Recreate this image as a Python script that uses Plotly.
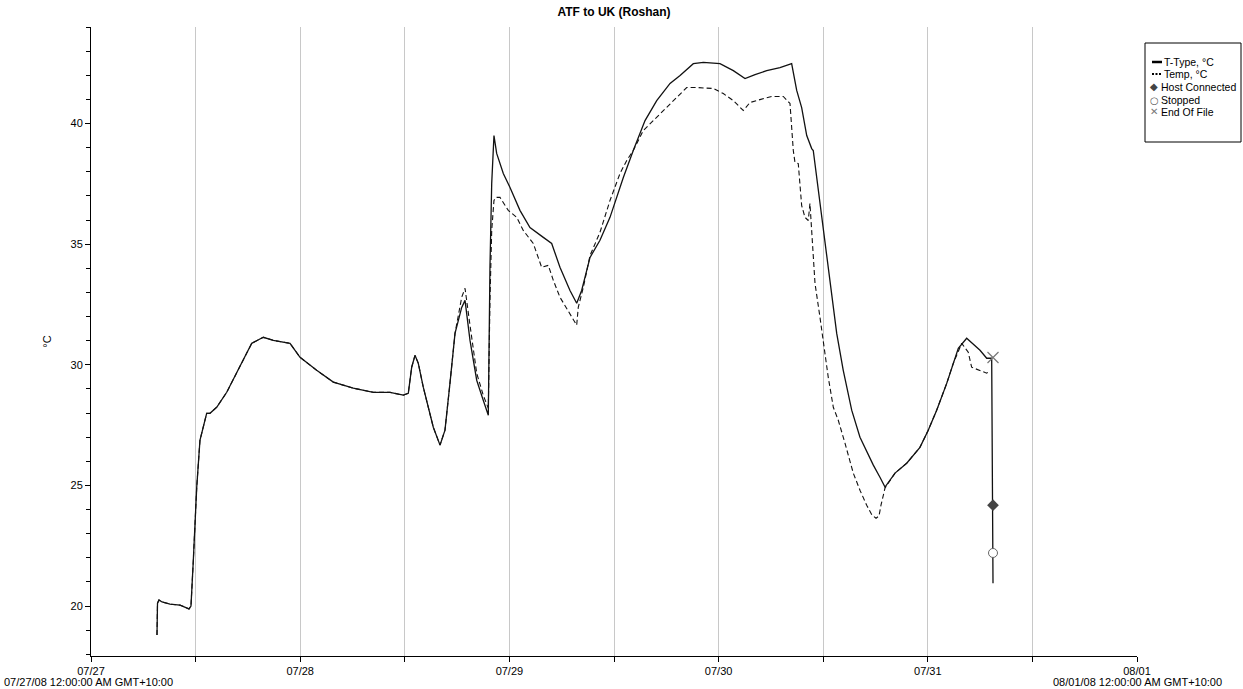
import pandas as pd
import plotly.graph_objects as go

TITLE = "ATF to UK (Roshan)"
START = "2008-07-27"
END = "2008-08-01"

# T-Type, °C  (hours since 07/27/08 00:00, temperature)
ttype_hours = [7.57, 7.63, 7.80, 8.15, 9.06, 10.21, 11.24, 11.47, 11.74, 12.13, 12.50, 12.88, 13.27, 13.65,
               14.42, 15.57, 16.72, 17.47, 18.44, 19.77, 20.91, 22.83, 23.98, 25.89, 27.80, 30.09, 32.39,
               34.30, 35.83, 36.40, 36.79, 37.17, 37.55, 38.12, 38.66, 39.27, 40.04, 40.61, 41.18, 41.76,
               42.53, 42.91, 43.48, 44.25, 45.00, 45.58, 45.77, 45.97, 46.23, 46.54, 47.30, 48.07, 49.21,
               50.36, 51.89, 52.85, 53.80, 54.95, 55.72, 56.29, 57.25, 58.39, 59.54, 61.07, 62.21, 63.56,
               64.90, 66.43, 67.58, 69.10, 70.25, 72.16, 73.69, 75.03, 76.18, 77.52, 79.04, 80.38, 80.96,
               81.53, 82.11, 82.68, 82.86, 83.44, 84.01, 84.78, 85.55, 86.30, 87.27, 88.22, 89.75, 90.51,
               91.09, 92.24, 93.58, 95.10, 96.05, 97.02, 98.17, 99.50, 100.46, 101.99, 102.76, 103.33, 103.48]
ttype_temps = [18.80, 20.12, 20.25, 20.17, 20.08, 20.04, 19.88, 20.00, 21.90, 24.93, 26.87, 27.41, 27.99, 27.99,
               28.24, 28.86, 29.65, 30.19, 30.89, 31.14, 31.01, 30.89, 30.31, 29.77, 29.28, 29.03, 28.86,
               28.86, 28.74, 28.82, 29.90, 30.39, 30.06, 29.07, 28.24, 27.41, 26.67, 27.29, 29.23, 31.30,
               32.38, 32.67, 31.01, 29.36, 28.53, 27.91, 34.04, 37.52, 39.50, 38.76, 37.93, 37.35, 36.40,
               35.69, 35.28, 35.03, 34.04, 33.08, 32.55, 33.08, 34.45, 35.16, 36.11, 37.76, 38.88, 40.12,
               40.95, 41.66, 41.99, 42.48, 42.53, 42.48, 42.19, 41.86, 42.03, 42.19, 42.32, 42.48, 41.37,
               40.66, 39.50, 38.96, 38.88, 37.23, 35.57, 33.37, 31.30, 29.77, 28.12, 27.00, 25.84, 25.34,
               24.93, 25.51, 25.92, 26.58, 27.29, 28.12, 29.23, 30.68, 31.10, 30.60, 30.27, 30.27, 20.95]

# Temp, °C
temp_hours = [7.57, 7.63, 7.80, 8.15, 9.06, 10.21, 11.24, 11.47, 11.74, 12.13, 12.50, 12.88, 13.27, 13.65,
              14.42, 15.57, 16.72, 17.47, 18.44, 19.77, 20.91, 22.83, 23.98, 25.89, 27.80, 30.09, 32.39,
              34.30, 35.83, 36.40, 36.79, 37.17, 37.55, 38.12, 38.66, 39.27, 40.04, 40.61, 41.18, 41.76,
              42.53, 42.91, 43.48, 44.25, 45.00, 45.58, 45.77, 45.97, 46.23, 46.46, 46.92, 47.87, 48.84,
              49.59, 50.74, 51.31, 51.70, 52.46, 53.04, 53.80, 54.95, 55.53, 55.72, 55.90, 56.48, 57.25,
              58.39, 59.54, 60.69, 61.46, 62.21, 63.36, 64.51, 65.65, 67.19, 68.34, 69.49, 71.39, 72.54,
              73.69, 74.83, 75.60, 76.74, 78.09, 79.42, 80.19, 80.57, 80.76, 81.14, 81.53, 81.91, 82.29,
              82.48, 82.68, 83.06, 83.63, 84.01, 84.58, 85.16, 85.73, 86.50, 87.45, 88.22, 88.99, 89.60,
              90.06, 90.40, 90.63, 91.09, 92.24, 93.58, 95.10, 96.05, 97.02, 98.17, 98.92, 99.89, 100.64,
              101.03, 101.99, 102.76, 103.13]
temp_temps = [18.80, 20.12, 20.25, 20.17, 20.08, 20.04, 19.88, 20.00, 21.90, 24.93, 26.87, 27.41, 27.99, 27.99,
              28.24, 28.86, 29.65, 30.19, 30.89, 31.14, 31.01, 30.89, 30.31, 29.77, 29.28, 29.03, 28.86,
              28.86, 28.74, 28.82, 29.90, 30.39, 30.06, 29.07, 28.24, 27.41, 26.67, 27.29, 29.23, 31.30,
              32.80, 33.17, 31.64, 29.65, 28.74, 28.20, 32.67, 35.57, 36.81, 36.94, 36.94, 36.40, 36.11,
              35.57, 35.03, 34.45, 34.04, 34.12, 33.50, 32.80, 32.13, 31.76, 31.64, 32.38, 33.21, 34.53,
              35.49, 36.81, 37.93, 38.47, 38.88, 39.71, 40.12, 40.54, 41.08, 41.49, 41.49, 41.45, 41.24,
              40.95, 40.54, 40.87, 40.99, 41.12, 41.12, 40.83, 38.88, 38.39, 38.34, 36.60, 36.11, 35.98,
              36.69, 35.36, 33.37, 31.97, 31.01, 29.48, 28.24, 27.70, 26.75, 25.51, 24.80, 24.18, 23.77,
              23.64, 23.73, 24.18, 24.89, 25.51, 25.92, 26.58, 27.29, 28.12, 29.23, 30.06, 30.89, 30.52,
              29.90, 29.77, 29.65, 29.77]

# Events
host_connected_hours = [103.48]
host_connected_temps = [24.18]
stopped_hours = [103.48]
stopped_temps = [22.20]
eof_hours = [103.48]
eof_temps = [30.30]

assert len(ttype_hours) == len(ttype_temps)
assert len(temp_hours) == len(temp_temps)

base = pd.Timestamp(START)


def to_time(hours):
    return base + pd.to_timedelta(hours, unit="h")


# Layout geometry (pixels)
W, H = 1243, 689
L, R, T, B = 91, 1137, 27, 656
PW, PH = R - L, B - T


def px(x):
    return (x - L) / PW


def py(y):
    return (B - y) / PH


FONT = "Liberation Sans, Arial, sans-serif"

fig = go.Figure()
fig.add_trace(go.Scatter(x=to_time(temp_hours), y=temp_temps, mode="lines", name="Temp, °C",
                         line=dict(color="#111111", width=1.1, dash="5px,3px"), showlegend=False))
fig.add_trace(go.Scatter(x=to_time(ttype_hours), y=ttype_temps, mode="lines", name="T-Type, °C",
                         line=dict(color="#111111", width=1.3), showlegend=False))
fig.add_trace(go.Scatter(x=to_time(host_connected_hours), y=host_connected_temps, mode="markers",
                         name="Host Connected",
                         marker=dict(symbol="diamond", size=9, color="#444444"), showlegend=False))
fig.add_trace(go.Scatter(x=to_time(stopped_hours), y=stopped_temps, mode="markers", name="Stopped",
                         marker=dict(symbol="circle", size=9, color="white",
                                     line=dict(color="#666666", width=1)), showlegend=False))
fig.add_trace(go.Scatter(x=to_time(eof_hours), y=eof_temps, mode="markers", name="End Of File",
                         marker=dict(symbol="x-thin-open", size=11, color="#777777",
                                     line=dict(color="#777777", width=1.2)), showlegend=False))

tickvals = pd.date_range(START, END, freq="12h")
ticktext = [t.strftime("%m/%d") if t.hour == 0 else "" for t in tickvals]

fig.update_layout(
    width=W, height=H,
    margin=dict(l=L, r=W - R, t=T, b=H - B, autoexpand=False),
    paper_bgcolor="white", plot_bgcolor="white",
    font=dict(family=FONT, size=11, color="black"),
    title=dict(text="<b>" + TITLE + "</b>", x=px(614), xref="paper", xanchor="center",
               y=1 - 12 / H, yref="container", yanchor="middle",
               font=dict(family=FONT, size=12, color="black")),
    xaxis=dict(type="date", range=[pd.Timestamp(START), pd.Timestamp(END)],
               tickmode="array", tickvals=tickvals, ticktext=ticktext,
               showgrid=True, gridcolor="#c8c8c8", gridwidth=1,
               showline=True, linecolor="black", linewidth=1,
               ticks="outside", ticklen=5, tickcolor="black",
               tickfont=dict(family=FONT, size=11), zeroline=False),
    yaxis=dict(range=[17.93, 44.0], tickmode="linear", tick0=0, dtick=5,
               showgrid=False, zeroline=False,
               showline=True, linecolor="black", linewidth=1,
               ticks="outside", ticklen=5, tickcolor="black",
               minor=dict(dtick=1, tick0=0, ticks="outside", ticklen=4, tickcolor="black", showgrid=False),
               tickfont=dict(family=FONT, size=11),
               title=dict(text="°C", standoff=16, font=dict(family=FONT, size=11))),
)

# Full-date captions under the first and last axis labels
fig.add_annotation(text="07/27/08 12:00:00 AM GMT+10:00", xref="paper", yref="paper",
                   x=px(2), y=py(682), xanchor="left", yanchor="middle", showarrow=False,
                   font=dict(family=FONT, size=11))
fig.add_annotation(text="08/01/08 12:00:00 AM GMT+10:00", xref="paper", yref="paper",
                   x=px(1137), y=py(682), xanchor="center", yanchor="middle", showarrow=False,
                   font=dict(family=FONT, size=11))

# Legend box (drawn manually to match the compact original)
fig.add_shape(type="rect", xref="paper", yref="paper", x0=px(1145), x1=px(1241), y0=py(43), y1=py(142),
              line=dict(color="black", width=1), fillcolor="white", layer="above")
rows = [62, 74, 87, 100, 112]
fig.add_shape(type="line", xref="paper", yref="paper", x0=px(1152), x1=px(1162), y0=py(rows[0]), y1=py(rows[0]),
              line=dict(color="black", width=2.5), layer="above")
fig.add_shape(type="line", xref="paper", yref="paper", x0=px(1152), x1=px(1162), y0=py(rows[1]), y1=py(rows[1]),
              line=dict(color="black", width=2, dash="2px,1.5px"), layer="above")
legend_items = [("T-Type, °C", None, rows[0], 1162),
                ("Temp, °C", None, rows[1], 1162),
                ("Host Connected", ("◆", "#444444"), rows[2], 1159),
                ("Stopped", ("○", "#555555"), rows[3], 1159),
                ("End Of File", ("✕", "#777777"), rows[4], 1159)]
for label, sym, ry, tx in legend_items:
    if sym is not None:
        fig.add_annotation(text=sym[0], xref="paper", yref="paper", x=px(1154), y=py(ry),
                           xanchor="center", yanchor="middle", showarrow=False,
                           font=dict(family="DejaVu Sans", size=10, color=sym[1]))
    fig.add_annotation(text=label, xref="paper", yref="paper", x=px(tx), y=py(ry),
                       xanchor="left", yanchor="middle", showarrow=False,
                       font=dict(family=FONT, size=10.5, color="black"))

fig.write_html("out.html", config={"displayModeBar": False},
               post_script="document.body.style.margin='0px';")
